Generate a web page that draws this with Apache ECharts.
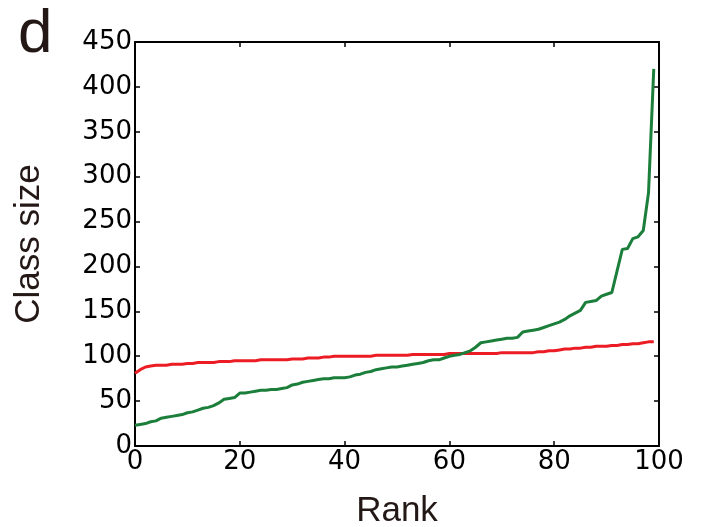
<!DOCTYPE html>
<html>
<head>
<meta charset="utf-8">
<script src="https://cdn.jsdelivr.net/npm/echarts@6/dist/echarts.min.js"></script>
<style>html,body{margin:0;padding:0;background:#fff;}#c{width:707px;height:527px;}</style>
</head>
<body>
<div id="c"></div>
<script>
var ranks = [];
for (var i = 0; i < 100; i++) ranks.push(i);
var xTicks = [0, 20, 40, 60, 80, 100];
var yTicks = [0, 50, 100, 150, 200, 250, 300, 350, 400, 450];
var redSeries = [81,85,88,89,90,90,90,91,91,91,92,92,93,93,93,93,94,94,94,95,
  95,95,95,95,96,96,96,96,96,96,97,97,97,98,98,98,99,99,100,100,
  100,100,100,100,100,100,101,101,101,101,101,101,101,102,102,102,102,102,102,102,
  103,103,103,103,103,103,103,103,103,103,104,104,104,104,104,104,104,105,105,106,
  106,107,108,108,109,109,110,110,111,111,111,112,112,113,113,114,114,115,116,116];
var greenSeries = [23,24,25,27,28,31,32,33,34,35,37,38,40,42,43,45,48,52,53,54,
  59,59,60,61,62,62,63,63,64,65,68,69,71,72,73,74,75,75,76,76,
  76,77,79,80,82,83,85,86,87,88,88,89,90,91,92,93,95,96,96,98,
  100,101,102,104,106,110,115,116,117,118,119,120,120,121,127,128,129,130,132,134,
  136,138,141,145,148,151,160,161,162,167,169,171,195,219,220,231,233,240,282,420];

function pairs(arr){ return arr.map(function(v,i){ return [ranks[i], v]; }); }

var chart = echarts.init(document.getElementById('c'));
var axisLine = {show:true, onZero:false, lineStyle:{color:'#000', width:2}};
var tick = {show:true, inside:true, length:5, lineStyle:{color:'#000', width:1.5}};
chart.setOption({
  animation:false,
  backgroundColor:'#fff',
  title:{text:'d', left:13, top:-1, textStyle:{fontFamily:'Liberation Sans', fontSize:62, fontWeight:'normal', color:'#231815'}},
  grid:{left:135, right:48, top:42, bottom:81, containLabel:false, outerBoundsMode:'none'},
  xAxis:[{
    type:'value', min:0, max:100, interval:20,
    name:'Rank', nameLocation:'middle', nameGap:48,
    nameTextStyle:{fontFamily:'Liberation Sans', fontSize:35, color:'#231815'},
    axisLine:axisLine, axisTick:tick, splitLine:{show:false},
    axisLabel:{fontFamily:'DejaVu Sans', fontSize:26, color:'#000', margin:3,
      formatter:function(v){ return xTicks.indexOf(v)>=0 ? String(v) : ''; }}
  },{
    type:'value', min:0, max:100, interval:20, position:'top',
    axisLine:axisLine, axisTick:tick, axisLabel:{show:false}, splitLine:{show:false}
  }],
  yAxis:[{
    type:'value', min:0, max:450, interval:50,
    name:'Class size', nameLocation:'middle', nameGap:88, nameRotate:90,
    nameTextStyle:{fontFamily:'Liberation Sans', fontSize:35, color:'#231815'},
    axisLine:axisLine, axisTick:tick, splitLine:{show:false},
    axisLabel:{fontFamily:'DejaVu Sans', fontSize:26, color:'#000', margin:3,
      formatter:function(v){ return yTicks.indexOf(v)>=0 ? String(v) : ''; }}
  },{
    type:'value', min:0, max:450, interval:50, position:'right',
    axisLine:axisLine, axisTick:tick, axisLabel:{show:false}, splitLine:{show:false}
  }],
  series:[
    {type:'line', name:'red', data:pairs(redSeries), showSymbol:false, symbol:'none',
     lineStyle:{color:'#ec1c24', width:3}, z:3},
    {type:'line', name:'green', data:pairs(greenSeries), showSymbol:false, symbol:'none',
     lineStyle:{color:'#1b7f3b', width:3}, z:4}
  ]
});
</script>
</body>
</html>
